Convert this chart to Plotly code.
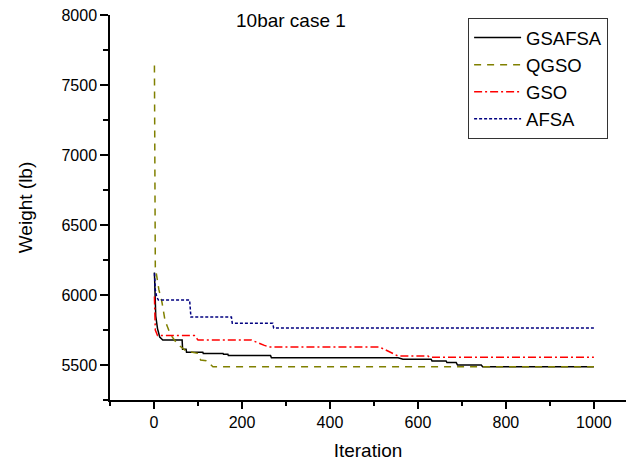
import plotly.graph_objects as go

# GSAFSA (black solid)
g_it = [1, 2, 4, 8, 13, 20, 64, 65, 73, 74, 111, 112, 157, 158, 168, 169, 265, 267,
        555, 566, 630, 632, 664, 666, 687, 690, 744, 747, 1000]
g_w = [6160, 6000, 5850, 5760, 5700, 5679, 5679, 5612, 5612, 5591, 5591, 5583, 5583,
       5576, 5576, 5567, 5567, 5552, 5552, 5541, 5541, 5529, 5529, 5517, 5517, 5500,
       5500, 5488, 5488]

# QGSO (olive dashed)
q_it = [1, 3, 7, 11, 18, 25, 37, 53, 73, 100, 106, 119, 134, 1000]
q_w = [7640, 6200, 6120, 6040, 5950, 5820, 5720, 5650, 5600, 5583, 5536, 5531, 5488, 5488]

# GSO (red dash-dot)
r_it = [1, 3, 8, 92, 100, 221, 251, 262, 513, 555, 623, 627, 1000]
r_w = [5990, 5750, 5710, 5710, 5679, 5679, 5640, 5628, 5628, 5564, 5564, 5555, 5555]

# AFSA (navy dotted)
b_it = [1, 3, 6, 10, 81, 84, 176, 178, 270, 272, 1000]
b_w = [6155, 6036, 5988, 5964, 5964, 5842, 5842, 5798, 5798, 5764, 5764]

x_ticks = [0, 200, 400, 600, 800, 1000]
y_ticks = [5500, 6000, 6500, 7000, 7500, 8000]

FONT = "Arial, Liberation Sans, sans-serif"

fig = go.Figure()
fig.add_trace(go.Scatter(x=g_it, y=g_w, mode="lines", name="GSAFSA",
                         line=dict(color="black", width=1.5)))
fig.add_trace(go.Scatter(x=q_it, y=q_w, mode="lines", name="QGSO",
                         line=dict(color="#808000", width=1.5, dash="7px,6px")))
fig.add_trace(go.Scatter(x=r_it, y=r_w, mode="lines", name="GSO",
                         line=dict(color="#ff0000", width=1.5, dash="8px,3px,2px,3px")))
fig.add_trace(go.Scatter(x=b_it, y=b_w, mode="lines", name="AFSA",
                         line=dict(color="#000080", width=1.5, dash="3px,2px")))

fig.update_layout(
    width=626, height=466, autosize=False,
    margin=dict(l=110, r=0, t=15, b=66),
    paper_bgcolor="white", plot_bgcolor="white",
    font=dict(family=FONT, color="black", size=16),
    showlegend=True,
    legend=dict(x=0.694, y=0.992, xanchor="left", yanchor="top",
                bordercolor="#333333", borderwidth=1, bgcolor="white",
                font=dict(size=18.5, family=FONT), itemwidth=47,
                tracegroupgap=0),
    annotations=[dict(text="10bar case 1", x=0.351, y=0.987, xref="paper", yref="paper",
                      xanchor="center", yanchor="middle", showarrow=False,
                      font=dict(size=19, family=FONT))],
)

fig.update_xaxes(range=[-100, 1073], tickvals=x_ticks, ticks="outside", ticklen=7,
                 tickwidth=1.5, tickcolor="black",
                 showline=True, linecolor="black", linewidth=1.5, mirror=False,
                 showgrid=False, zeroline=False,
                 minor=dict(dtick=100, tick0=0, ticks="outside", ticklen=4,
                            tickwidth=1.5, tickcolor="black", showgrid=False),
                 tickfont=dict(size=16),
                 title=dict(text="Iteration", font=dict(size=19), standoff=14))
fig.update_yaxes(range=[5250, 8000], tickvals=y_ticks, ticks="outside", ticklen=8,
                 tickwidth=1.5, tickcolor="black",
                 showline=True, linecolor="black", linewidth=1.5, mirror=False,
                 showgrid=False, zeroline=False,
                 minor=dict(dtick=250, tick0=0, ticks="outside", ticklen=5,
                            tickwidth=1.5, tickcolor="black", showgrid=False),
                 tickfont=dict(size=16),
                 title=dict(text="Weight (lb)", font=dict(size=19), standoff=24))

fig.write_html("out.html")
